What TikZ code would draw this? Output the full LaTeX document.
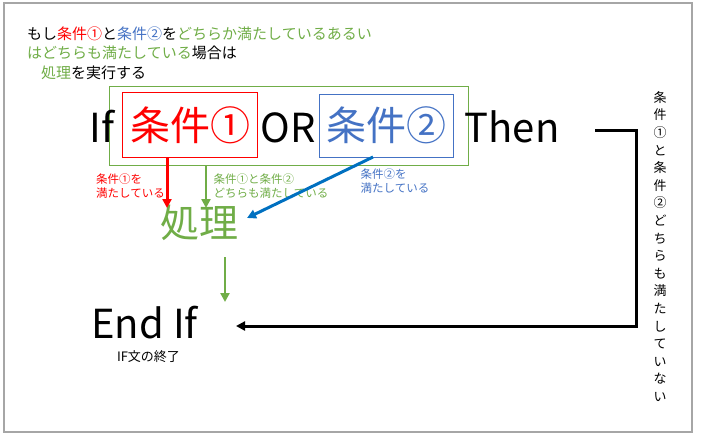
\documentclass[tikz,border=0pt]{standalone}
\usepackage{fontspec}
\setmainfont{Noto Sans CJK JP}
\usetikzlibrary{arrows.meta}
\definecolor{cred}{RGB}{255,0,0}
\definecolor{cblue}{HTML}{4472C4}
\definecolor{cgreen}{HTML}{70AD47}
\definecolor{carrow}{HTML}{0070C0}
\definecolor{cframe}{HTML}{A6A6A6}
\begin{document}
\begin{tikzpicture}[x=1pt,y=-1pt,
  big/.style={inner sep=0, font=\fontsize{40}{40}\selectfont},
  note/.style={inner sep=0, anchor=base west, font=\fontsize{15}{19}\selectfont},
  lbl/.style={inner sep=0, align=left, font=\fontsize{11.5}{14}\selectfont},
  arr/.style={line width=3pt, -{Triangle[length=9pt,width=9pt]}}]
\useasboundingbox (0,0) rectangle (703,439);
\draw[cframe, line width=1.2pt] (4,3) rectangle (692,432);
\node[note] (note1) at (27,39){もし\textcolor{cred}{条件①}と\textcolor{cblue}{条件②}を\textcolor{cgreen}{どちらか満たしているあるい}};
\node[note] (note2) at (27,58){\textcolor{cgreen}{はどちらも満たしている}場合は};
\node[note] (note3) at (41,78){\textcolor{cgreen}{処理}を実行する};
\node[draw=cgreen, line width=1pt, minimum width=359, minimum height=79] (condall) at (288.5,125.5){};
\node[big, text=cred, minimum width=134, minimum height=64] (cond1) at (190,125){条件①};
\draw[cred, line width=1.2pt] (cond1.south west) rectangle (cond1.north east);
\node[big, draw, color=cblue, line width=1pt, minimum width=134, minimum height=63] (cond2) at (386,125.5){条件②};
\node[big, anchor=base] (kwif) at (102,142){If};
\node[big, anchor=base] (kwor) at (288.5,142){OR};
\node[big, anchor=base] (kwthen) at (512,142){Then};
\node[big, text=cgreen, font=\fontsize{39}{39}\selectfont] (proc) at (199,223){処理};
\node[big, anchor=base] (endif) at (144.5,338){End If};
\node[inner sep=0, font=\fontsize{13}{13}\selectfont] (endnote) at (148.5,357){IF文の終了};
\node[lbl, text=cred] (lbl1) at (130.5,186){条件①を\\満たしている};
\node[lbl, text=cgreen] (lbl2) at (271,186){条件①と条件②\\どちらも満たしている};
\node[lbl, text=cblue] (lbl3) at (395,181.5){条件②を\\満たしている};
\node[inner sep=0, align=center, font=\fontsize{13}{17.6}\selectfont] (elsenote) at (660,246.5){条\\件\\①\\と\\条\\件\\②\\ど\\ち\\ら\\も\\満\\た\\し\\て\\い\\な\\い};
% free ends
\coordinate (redtip) at (167,208);
\coordinate (grntip) at (206,208);
\coordinate (bluestart) at (373,157);
\coordinate (bluetip) at (247,218);
\coordinate (dnstart) at (225,257);
\coordinate (dnend) at (225,302);
\coordinate (elsestart) at (595,130);
\coordinate (endtip) at (236,326);
\draw[arr, cred](cond1.south -| redtip) -- (redtip);
\draw[arr, cgreen, line width=2.5pt](condall.south -| grntip) -- (grntip);
\draw[arr, carrow](bluestart) -- (bluetip);
\draw[arr, cgreen, line width=2.5pt](dnstart) -- (dnend);
\draw[arr, line width=3pt](elsestart) -- ++(41,0) |- (endtip);
\end{tikzpicture}
\end{document}
